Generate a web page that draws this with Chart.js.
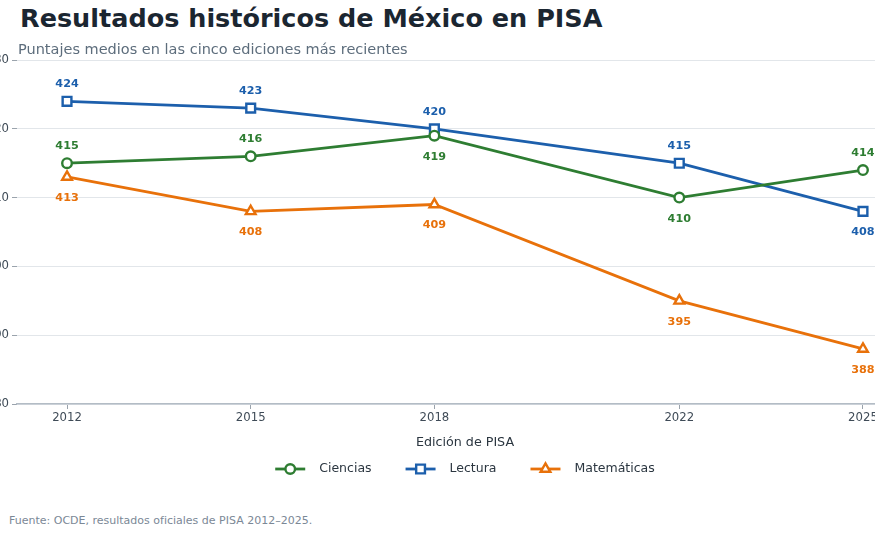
<!DOCTYPE html>
<html lang="es">
<head>
<meta charset="utf-8">
<script src="https://cdn.jsdelivr.net/npm/chart.js@4.4.1/dist/chart.umd.min.js"></script>
<style>
  html, body { margin: 0; padding: 0; background: #fff; }
  body { width: 875px; height: 535px; overflow: hidden; position: relative; font-family: "DejaVu Sans", sans-serif; }
  #wrap { position: absolute; left: -40px; top: 50px; width: 1010px; height: 440px; }
  .txt { position: absolute; line-height: 1; white-space: nowrap; }
  #title { left: 20px; top: 6px; font-size: 25.5px; font-weight: bold; color: #1b2631; }
  #subtitle { left: 18px; top: 42px; font-size: 14.5px; color: #5d6d7c; }
  #note { left: 9px; top: 515px; font-size: 11px; color: #7b8896; }
</style>
</head>
<body>
<div id="wrap"><canvas id="chart"></canvas></div>
<div class="txt" id="title">Resultados históricos de México en PISA</div>
<div class="txt" id="subtitle">Puntajes medios en las cinco ediciones más recientes</div>
<div class="txt" id="note">Fuente: OCDE, resultados oficiales de PISA 2012–2025.</div>
<script>
const years = [2012, 2015, 2018, 2022, 2025];
const ciencias = [415, 416, 419, 410, 414];
const lectura = [424, 423, 420, 415, 408];
const matematicas = [413, 408, 409, 395, 388];
const yTicks = [380, 390, 400, 410, 420, 430];

// where each value label sits, per series
const labelSide = [
    ["up", "up", "down", "down", "up"],
    ["up", "up", "up", "up", "down"],
    ["down", "down", "down", "down", "down"]
];

const FONT = "'DejaVu Sans', sans-serif";

function points(values) {
    return years.map((x, i) => ({ x: x, y: values[i] }));
}

const valueLabels = {
    id: "valueLabels",
    afterDatasetsDraw(chart) {
        const ctx = chart.ctx;
        ctx.save();
        ctx.font = "bold 11.2px " + FONT;
        ctx.textAlign = "center";
        ctx.textBaseline = "middle";
        chart.data.datasets.forEach((d, i) => {
            const meta = chart.getDatasetMeta(i);
            meta.data.forEach((pt, j) => {
                const below = labelSide[i][j] === "down";
                ctx.fillStyle = d.borderColor;
                ctx.fillText(String(d.data[j].y), pt.x, pt.y + (below ? 21 : -17));
            });
        });
        ctx.restore();
    }
};

const lineLegend = {
    id: "lineLegend",
    afterDraw(chart) {
        const { ctx, chartArea } = chart;
        const sets = chart.data.datasets;
        const lineLen = 30, gapText = 14, gapItem = 34;
        ctx.save();
        ctx.font = "12.5px " + FONT;
        const widths = sets.map(d => lineLen + gapText + ctx.measureText(d.label).width);
        const total = widths.reduce((a, b) => a + b, 0) + gapItem * (sets.length - 1);
        let x = (chartArea.left + chartArea.right) / 2 - total / 2;
        const y = chartArea.bottom + 65;
        sets.forEach((d, i) => {
            ctx.strokeStyle = d.borderColor;
            ctx.lineWidth = d.borderWidth;
            ctx.beginPath();
            ctx.moveTo(x, y);
            ctx.lineTo(x + lineLen, y);
            ctx.stroke();
            ctx.fillStyle = "#ffffff";
            ctx.lineWidth = d.pointBorderWidth;
            Chart.helpers.drawPoint(ctx, {
                pointStyle: d.pointStyle,
                radius: d.pointRadius,
                borderWidth: d.pointBorderWidth,
                rotation: 0
            }, x + lineLen / 2, y);
            ctx.fillStyle = "#2b3640";
            ctx.textAlign = "left";
            ctx.textBaseline = "middle";
            ctx.fillText(d.label, x + lineLen + gapText, y);
            x += widths[i] + gapItem;
        });
        ctx.restore();
    }
};

function series(label, values, color, style, radius) {
    return {
        label: label,
        data: points(values),
        borderColor: color,
        backgroundColor: "#ffffff",
        borderWidth: 2.8,
        pointStyle: style,
        pointRadius: radius,
        pointBorderWidth: 2.4,
        pointBackgroundColor: "#ffffff",
        pointBorderColor: color,
        tension: 0
    };
}

new Chart(document.getElementById("chart"), {
    type: "line",
    data: {
        datasets: [
            series("Ciencias", ciencias, "#2e7d32", "circle", 4.8),
            series("Lectura", lectura, "#1c5fac", "rect", 6.2),
            series("Matemáticas", matematicas, "#e8710a", "triangle", 5.6)
        ]
    },
    options: {
        responsive: true,
        maintainAspectRatio: false,
        animation: false,
        layout: { padding: { left: 7, right: 57, top: 9, bottom: 36 } },
        plugins: {
            legend: { display: false },
            tooltip: { enabled: false }
        },
        scales: {
            x: {
                type: "linear",
                min: 2011.183,
                max: 2025.817,
                afterBuildTicks: s => { s.ticks = years.map(v => ({ value: v })); },
                afterFit: s => { s.height = 50; },
                ticks: {
                    callback: v => String(v),
                    color: "#3f4b57",
                    font: { size: 11.7, family: FONT },
                    padding: 2,
                    maxRotation: 0,
                    autoSkip: false
                },
                grid: { drawOnChartArea: false, drawTicks: true, tickLength: 5, tickColor: "#9aa3ac" },
                border: { display: true, color: "#b3bcc5", width: 1.5 },
                title: {
                    display: true,
                    text: "Edición de PISA",
                    color: "#2b3640",
                    font: { size: 12.7, family: FONT },
                    padding: { top: 11, bottom: 4 }
                }
            },
            y: {
                min: 380,
                max: 430,
                afterBuildTicks: s => { s.ticks = yTicks.map(v => ({ value: v })); },
                afterFit: s => { s.width = 50; },
                ticks: { color: "#3f4b57", font: { size: 11.7, family: FONT }, padding: 3 },
                grid: { color: "#e2e6ea", lineWidth: 1, tickLength: 5, tickColor: "#9aa3ac" },
                border: { display: false }
            }
        }
    },
    plugins: [valueLabels, lineLegend]
});
</script>
</body>
</html>
